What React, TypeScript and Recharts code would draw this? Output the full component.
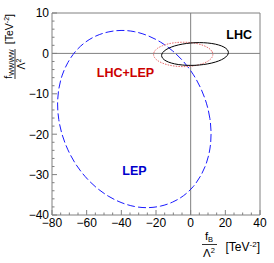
import React from 'react';
import { LineChart, Line, XAxis, YAxis, ReferenceLine, ReferenceDot, Label } from 'recharts';

// contour points (fB/Λ², fWWW/Λ²)
const lepX = [12.0, 11.3, 9.3, 6.0, 1.6, -3.9, -10.3, -17.3, -24.8, -32.5, -40.2, -47.7, -54.8, -61.1, -66.6, -71.0, -74.3, -76.3, -77.0, -76.3, -74.3, -71.0, -66.6, -61.1, -54.8, -47.7, -40.2, -32.5, -24.8, -17.3, -10.3, -3.9, 1.6, 6.0, 9.3, 11.3];
const lepY = [-20.0, -16.1, -12.3, -8.6, -5.1, -2.0, 0.7, 2.9, 4.5, 5.5, 5.8, 5.4, 4.4, 2.8, 0.6, -2.2, -5.3, -8.8, -12.5, -16.4, -20.2, -23.9, -27.4, -30.5, -33.2, -35.4, -37.0, -38.0, -38.3, -37.9, -36.9, -35.3, -33.1, -30.3, -27.2, -23.7];

const lhcX = [22.0, 21.3, 19.4, 16.3, 12.3, 7.5, 2.5, -2.5, -7.3, -11.3, -14.4, -16.3, -17.0, -16.3, -14.4, -11.3, -7.3, -2.5, 2.5, 7.5, 12.3, 16.3, 19.4, 21.3];
const lhcY = [0.22, 0.94, 1.59, 2.11, 2.48, 2.68, 2.68, 2.48, 2.11, 1.59, 0.94, 0.22, -0.52, -1.24, -1.89, -2.41, -2.78, -2.98, -2.98, -2.78, -2.41, -1.89, -1.24, -0.52];

const combX = [13.0, 12.4, 10.7, 7.9, 4.4, 0.2, -4.3, -8.8, -13.0, -16.5, -19.3, -21.0, -21.6, -21.0, -19.3, -16.5, -13.0, -8.8, -4.3, 0.2, 4.4, 7.9, 10.7, 12.4];
const combY = [-0.25, 0.54, 1.28, 1.91, 2.39, 2.7, 2.8, 2.7, 2.39, 1.91, 1.28, 0.54, -0.25, -1.04, -1.78, -2.41, -2.89, -3.2, -3.3, -3.2, -2.89, -2.41, -1.78, -1.04];

const xTicks = [-80, -75, -70, -65, -60, -55, -50, -45, -40, -35, -30, -25, -20, -15, -10, -5, 0, 5, 10, 15, 20, 25, 30, 35, 40];
const xLabels = [-80, -60, -40, -20, 0, 20, 40];
const yTicks = [-40, -38, -36, -34, -32, -30, -28, -26, -24, -22, -20, -18, -16, -14, -12, -10, -8, -6, -4, -2, 0, 2, 4, 6, 8, 10];
const yLabels = [-40, -30, -20, -10, 0, 10];

const toPts = (xs: number[], ys: number[]) => xs.map((x, i) => ({ x, y: ys[i] }));
const lepData = toPts(lepX, lepY);
const lhcData = toPts(lhcX, lhcY);
const combData = toPts(combX, combY);

const LEFT = 52;
const RIGHT = 260;
const TOP = 13;
const BOTTOM = 215;
const GRAY = '#808080';
const FONT = '"Liberation Sans", Arial, Helvetica, sans-serif';

const fmt = (v: number) => (v < 0 ? `\u2212${-v}` : `${v}`);

const XTick = (props: any) => {
  const { x, payload } = props;
  const major = xLabels.includes(payload.value);
  return (
    <g>
      <line x1={x} x2={x} y1={BOTTOM} y2={BOTTOM - (major ? 5 : 2.5)} stroke={GRAY} />
      {major && (
        <text x={x} y={227} textAnchor="middle" fontSize={12} fontFamily={FONT} fill="#000">
          {fmt(payload.value)}
        </text>
      )}
    </g>
  );
};

const YTick = (props: any) => {
  const { y, payload } = props;
  const major = yLabels.includes(payload.value);
  return (
    <g>
      <line x1={LEFT} x2={LEFT + (major ? 5 : 2.5)} y1={y} y2={y} stroke={GRAY} />
      {major && (
        <text x={49} y={y} dy="0.36em" textAnchor="end" fontSize={12} fontFamily={FONT} fill="#000">
          {fmt(payload.value)}
        </text>
      )}
    </g>
  );
};

const XTitle = () => (
  <g fontFamily={FONT} fill="#000">
    <text x={209} y={240} textAnchor="middle" fontSize={11.5}>
      f<tspan fontSize={7.5} dy={2}>B</tspan>
    </text>
    <line x1={202} x2={217} y1={244.5} y2={244.5} stroke="#000" strokeWidth={0.8} />
    <text x={209} y={257} textAnchor="middle" fontSize={11.5}>
      Λ<tspan fontSize={7.5} dy={-4.5}>2</tspan>
    </text>
    <text x={RIGHT} y={251} textAnchor="end" fontSize={12}>
      [TeV<tspan fontSize={8} dy={-4.5}>-2</tspan><tspan dy={4.5}>]</tspan>
    </text>
  </g>
);

const YTitle = () => (
  <g transform={`translate(0, ${TOP}) rotate(-90)`} fontFamily={FONT} fill="#000">
    <text x={-51} y={11.5} textAnchor="middle" fontSize={10.5}>
      f<tspan fontSize={7} dy={2}>WWWW</tspan>
    </text>
    <line x1={-66} x2={-36} y1={15} y2={15} stroke="#000" strokeWidth={0.8} />
    <text x={-51} y={24.5} textAnchor="middle" fontSize={10.5}>
      Λ<tspan fontSize={7} dy={-4}>2</tspan>
    </text>
    <text x={-1} y={12.5} textAnchor="end" fontSize={10.5}>
      [TeV<tspan fontSize={7} dy={-4}>-2</tspan><tspan dy={4}>]</tspan>
    </text>
  </g>
);

const tag = (text: string, color: string) => (p: any) => (
  <text x={p.cx} y={p.cy} dy="0.36em" textAnchor="middle" fontSize={12.5} fontWeight="bold" fontFamily={FONT} fill={color}>
    {text}
  </text>
);

export default function App() {
  return (
    <div style={{ position: 'absolute', left: 0, top: 0, background: '#fff' }}>
      <LineChart width={274} height={263} margin={{ top: TOP, right: 274 - RIGHT, bottom: 0, left: 0 }}>
        <XAxis
          type="number"
          dataKey="x"
          domain={[-80, 40]}
          ticks={xTicks}
          interval={0}
          allowDataOverflow
          height={263 - BOTTOM}
          axisLine={{ stroke: GRAY }}
          tickLine={false}
          tick={<XTick />}
        >
          <Label content={<XTitle />} />
        </XAxis>
        <YAxis
          type="number"
          dataKey="y"
          domain={[-40, 10]}
          ticks={yTicks}
          interval={0}
          allowDataOverflow
          width={LEFT}
          axisLine={{ stroke: GRAY }}
          tickLine={false}
          tick={<YTick />}
        >
          <Label content={<YTitle />} />
        </YAxis>
        <ReferenceLine x={0} stroke={GRAY} />
        <ReferenceLine y={0} stroke={GRAY} />
        <ReferenceLine x={40} stroke={GRAY} />
        <ReferenceLine y={10} stroke={GRAY} />
        <Line
          data={lepData}
          dataKey="y"
          type="basisClosed"
          stroke="#1a1aff"
          strokeWidth={1}
          strokeDasharray="8 3"
          dot={false}
          isAnimationActive={false}
        />
        <Line
          data={combData}
          dataKey="y"
          type="basisClosed"
          stroke="#e86a6a"
          strokeWidth={1}
          strokeDasharray="1.5 1.2"
          dot={false}
          isAnimationActive={false}
        />
        <Line
          data={lhcData}
          dataKey="y"
          type="basisClosed"
          stroke="#000"
          strokeWidth={1}
          dot={false}
          isAnimationActive={false}
        />
        <ReferenceDot x={28} y={4.8} r={0} shape={tag('LHC', '#000')} />
        <ReferenceDot x={-37.6} y={-4.85} r={0} shape={tag('LHC+LEP', '#cc0000')} />
        <ReferenceDot x={-32.4} y={-28.9} r={0} shape={tag('LEP', '#0000cc')} />
      </LineChart>
    </div>
  );
}
